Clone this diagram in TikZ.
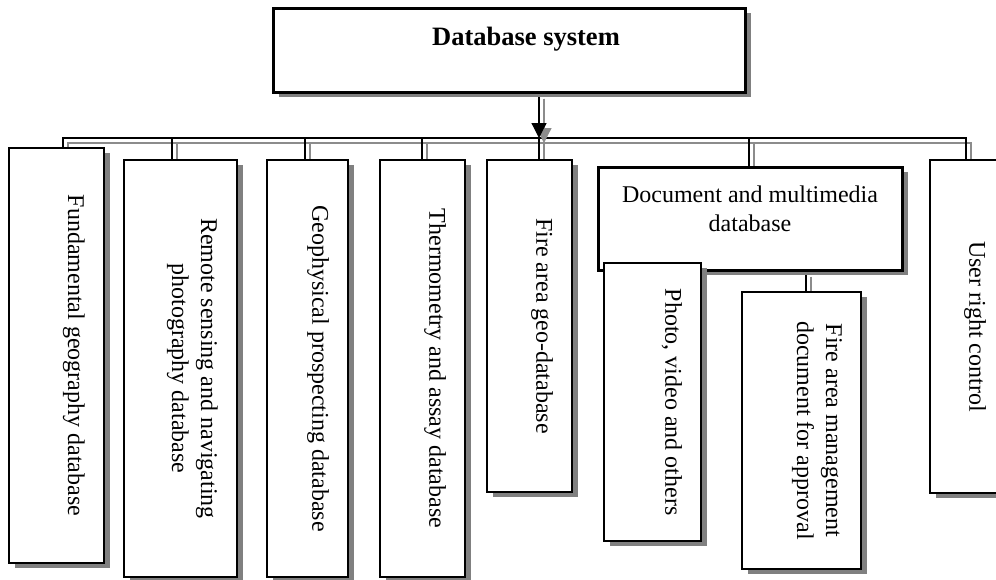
\documentclass[tikz,border=0pt]{standalone}
\usepackage{fontspec}
\setmainfont{Liberation Serif}
\usetikzlibrary{shadows,arrows.meta,backgrounds}
\newcommand{\bodyfont}{\fontsize{24}{29}\selectfont}
\newcommand{\headfont}{\fontsize{26.5}{31}\selectfont\bfseries}
\begin{document}
\begin{tikzpicture}[x=1pt, y=-1pt,
  dbbox/.style={draw, line width=2.2pt, fill=white, inner sep=0pt,
    drop shadow={shadow xshift=6pt, shadow yshift=-5pt, fill=black!50, opacity=1}},
  headbox/.style={dbbox, line width=3pt},
  vlabel/.style={rotate=-90, anchor=north, inner sep=0pt, align=center, font=\bodyfont},
  link/.style={line width=1.2pt,
    preaction={draw=black!45, line width=1.2pt, transform canvas={xshift=5pt, yshift=-5pt}}},
  feed/.style={line width=1.2pt, -{Triangle[width=15pt,length=15pt]},
    preaction={draw=black!45, line width=1.2pt, -{Triangle[width=15pt,length=15pt]},
      fill=black!45, transform canvas={xshift=5pt, yshift=-5pt}}}]
\useasboundingbox (0,0) rectangle (996,579);
%top box:
\node[headbox, minimum width=472pt, minimum height=84pt] (db) at (509,50) {};
\node[font=\headfont, anchor=north, inner sep=0pt] (dbtxt) at ([xshift=17pt,yshift=-20pt]db.north) {Database system};
%databases:
\node[dbbox, minimum width=95pt, minimum height=415pt] (fgd) at (56.5,355.5) {};
\node[vlabel] (fgdtxt) at ([xshift=-20pt]fgd.east) {Fundamental geography database};
\node[dbbox, minimum width=113pt, minimum height=417pt] (rsn) at (180.5,368.5) {};
\node[vlabel] (rsntxt) at ([xshift=-20pt]rsn.east) {Remote sensing and navigating\\photography database};
\node[dbbox, minimum width=81pt, minimum height=417pt] (gpd) at (307.5,368.5) {};
\node[vlabel] (gpdtxt) at ([xshift=-20pt]gpd.east) {Geophysical prospecting database};
\node[dbbox, minimum width=85pt, minimum height=417pt] (tad) at (422.5,368.5) {};
\node[vlabel] (tadtxt) at ([xshift=-20pt]tad.east) {Thermometry and assay database};
\node[dbbox, minimum width=85pt, minimum height=332pt] (fgeo) at (529.5,326) {};
\node[vlabel] (fgeotxt) at ([xshift=-20pt]fgeo.east) {Fire area geo-database};
%document and multimedia:
\node[headbox, minimum width=304pt, minimum height=103pt] (docmm) at (750,218.5) {};
\node[font=\bodyfont, anchor=north, inner sep=0pt, align=center] (docmmtxt) at ([yshift=-20pt]docmm.north) {Document and multimedia\\database};
\node[dbbox, minimum width=97pt, minimum height=278pt] (photo) at (652.5,402) {};
\node[vlabel] (phototxt) at ([xshift=-20pt]photo.east) {Photo, video and others};
\node[dbbox, minimum width=119pt, minimum height=277pt] (firemg) at (801.5,430.5) {};
\node[vlabel] (firemgtxt) at ([xshift=-20pt]firemg.east) {Fire area management\\document for approval};
%user rights:
\node[dbbox, minimum width=75pt, minimum height=333pt] (urc) at (967.5,326.5) {};
\node[vlabel] (urctxt) at ([xshift=-20pt]urc.east) {User right control};
%bus:
\coordinate (d1) at (63,138);
\coordinate (d2) at (172,138);
\coordinate (d3) at (305,138);
\coordinate (d4) at (422,138);
\coordinate (d5) at (539,138);
\coordinate (d6) at (749,138);
\coordinate (d7) at (966,138);
\begin{scope}[on background layer]
\draw[link] (d1 |- fgd.north) -- (d1) -- (d7) -- (d7 |- urc.north);
\foreach \d/\b in {d2/rsn, d3/gpd, d4/tad, d5/fgeo, d6/docmm}
  \draw[link] (\d) -- (\d |- \b.north);
\draw[link] ([xshift=4.5pt]firemg.north |- docmm.south) -- ([xshift=4.5pt]firemg.north);
\draw[feed] (d5 |- db.south) -- (d5);
\end{scope}
\end{tikzpicture}
\end{document}
